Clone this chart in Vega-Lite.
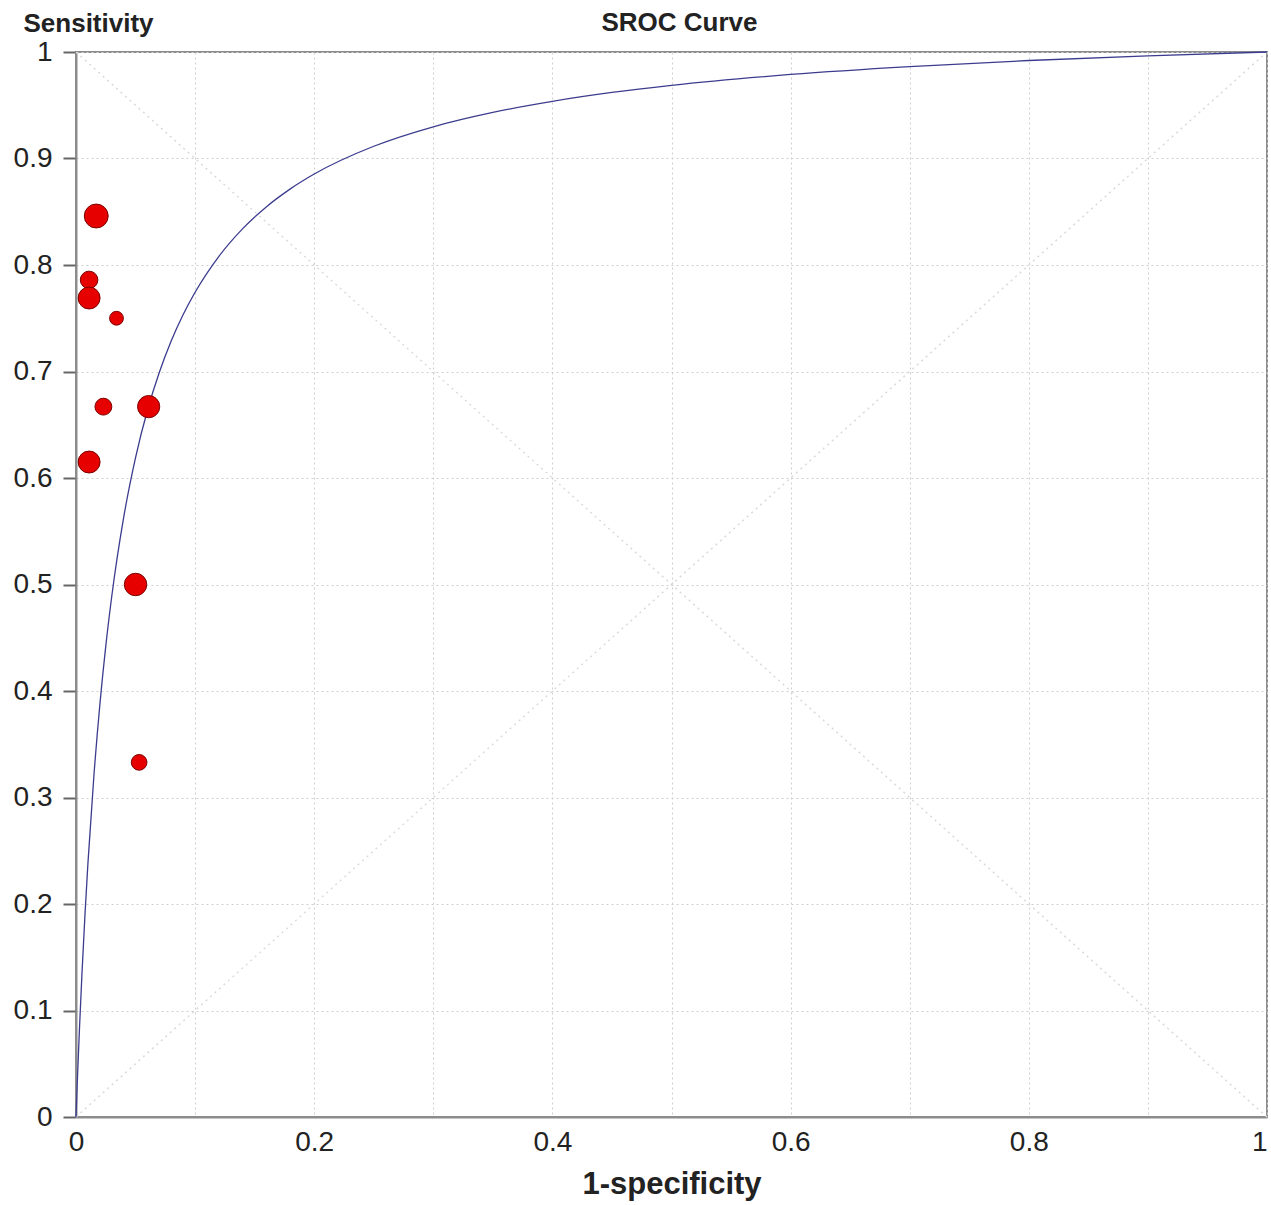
{
  "$schema": "https://vega.github.io/schema/vega-lite/v6.json",
  "width": 1191,
  "height": 1065,
  "autosize": {"type": "none"},
  "padding": {"left": 76, "top": 52, "right": 4, "bottom": 88},
  "background": "white",
  "config": {
    "font": "Liberation Sans",
    "view": {"stroke": "#8c8c8c", "strokeWidth": 2},
    "title": {"font": "Liberation Sans", "fontSize": 26, "fontWeight": "bold", "color": "#222"}
  },
  "title": {"text": "SROC Curve", "anchor": "middle", "baseline": "bottom", "offset": 0, "dy": 52, "frame": "group", "dx": 8},
  "datasets": {
    "studies": [
      {"fpr": 0.017, "sens": 0.846, "weight": 10.2},
      {"fpr": 0.011, "sens": 0.786, "weight": 5.5},
      {"fpr": 0.011, "sens": 0.769, "weight": 8.6},
      {"fpr": 0.034, "sens": 0.75, "weight": 3.4},
      {"fpr": 0.023, "sens": 0.667, "weight": 5.1},
      {"fpr": 0.061, "sens": 0.667, "weight": 8.8},
      {"fpr": 0.011, "sens": 0.615, "weight": 8.6},
      {"fpr": 0.05, "sens": 0.5, "weight": 9.0},
      {"fpr": 0.053, "sens": 0.333, "weight": 4.4}
    ],
    "curve": [
      {"fpr": 0, "sens": 0},
      {"fpr": 0.0005, "sens": 0.0152},
      {"fpr": 0.001, "sens": 0.03},
      {"fpr": 0.002, "sens": 0.0583},
      {"fpr": 0.003, "sens": 0.0851},
      {"fpr": 0.005, "sens": 0.1344},
      {"fpr": 0.0075, "sens": 0.1893},
      {"fpr": 0.01, "sens": 0.2379},
      {"fpr": 0.015, "sens": 0.32},
      {"fpr": 0.02, "sens": 0.3867},
      {"fpr": 0.025, "sens": 0.4421},
      {"fpr": 0.03, "sens": 0.4887},
      {"fpr": 0.04, "sens": 0.5628},
      {"fpr": 0.05, "sens": 0.6192},
      {"fpr": 0.06, "sens": 0.6636},
      {"fpr": 0.07, "sens": 0.6993},
      {"fpr": 0.08, "sens": 0.7288},
      {"fpr": 0.09, "sens": 0.7535},
      {"fpr": 0.1, "sens": 0.7744},
      {"fpr": 0.12, "sens": 0.8082},
      {"fpr": 0.14, "sens": 0.8342},
      {"fpr": 0.16, "sens": 0.8548},
      {"fpr": 0.18, "sens": 0.8715},
      {"fpr": 0.2, "sens": 0.8854},
      {"fpr": 0.25, "sens": 0.9115},
      {"fpr": 0.3, "sens": 0.9298},
      {"fpr": 0.35, "sens": 0.9433},
      {"fpr": 0.4, "sens": 0.9537},
      {"fpr": 0.45, "sens": 0.962},
      {"fpr": 0.5, "sens": 0.9687},
      {"fpr": 0.6, "sens": 0.9789},
      {"fpr": 0.7, "sens": 0.9863},
      {"fpr": 0.8, "sens": 0.992},
      {"fpr": 0.9, "sens": 0.9964},
      {"fpr": 1, "sens": 1}
    ],
    "diagonals": [
      {"fpr": 0, "sens": 0, "fpr2": 1, "sens2": 1},
      {"fpr": 0, "sens": 1, "fpr2": 1, "sens2": 0}
    ]
  },
  "layer": [
    {
      "data": {"name": "diagonals"},
      "mark": {"type": "rule", "stroke": "#dadada", "strokeWidth": 1.5, "strokeDash": [2, 4]},
      "encoding": {
        "x": {
          "field": "fpr", "type": "quantitative",
          "scale": {"domain": [0, 1], "nice": false, "zero": false},
          "axis": {
            "values": [0, 0.1, 0.2, 0.3, 0.4, 0.5, 0.6, 0.7, 0.8, 0.9, 1],
            "format": "~g",
            "labelExpr": "round(datum.value*10)%2==0 ? datum.label : ''",
            "labelAlign": {"condition": {"test": "datum.value >= 1", "value": "right"}, "value": "center"},
            "ticks": false,
            "labelPadding": 11,
            "labelFontSize": 28,
            "labelColor": "#222",
            "labelFont": "Liberation Sans",
            "labelFlush": false,
            "domainColor": "#8c8c8c",
            "domainWidth": 2,
            "grid": true,
            "gridColor": "#cfcfcf",
            "gridDash": [2, 3],
            "gridWidth": 1,
            "title": "1-specificity",
            "titleFontSize": 31,
            "titleFontWeight": "bold",
            "titleColor": "#222",
            "titleFont": "Liberation Sans",
            "titlePadding": 13
          }
        },
        "y": {
          "field": "sens", "type": "quantitative",
          "scale": {"domain": [0, 1], "nice": false, "zero": false},
          "axis": {
            "values": [0, 0.1, 0.2, 0.3, 0.4, 0.5, 0.6, 0.7, 0.8, 0.9, 1],
            "format": "~g",
            "tickSize": 13,
            "tickColor": "#666",
            "tickWidth": 2,
            "labelPadding": 11,
            "labelFontSize": 28,
            "labelColor": "#222",
            "labelFont": "Liberation Sans",
            "labelFlush": false,
            "domainColor": "#8c8c8c",
            "domainWidth": 2,
            "grid": true,
            "gridColor": "#cfcfcf",
            "gridDash": [2, 3],
            "gridWidth": 1,
            "title": "Sensitivity",
            "titleAngle": 0,
            "titleAlign": "left",
            "titleBaseline": "alphabetic",
            "titleX": -53,
            "titleY": -21,
            "titleFontSize": 26,
            "titleFontWeight": "bold",
            "titleColor": "#222",
            "titleFont": "Liberation Sans"
          }
        },
        "x2": {"field": "fpr2"},
        "y2": {"field": "sens2"}
      }
    },
    {
      "data": {"name": "curve"},
      "mark": {"type": "line", "stroke": "#3c3c8f", "strokeWidth": 1.3, "interpolate": "monotone"},
      "encoding": {
        "x": {"field": "fpr", "type": "quantitative"},
        "y": {"field": "sens", "type": "quantitative"}
      }
    },
    {
      "data": {"name": "studies"},
      "mark": {"type": "point", "filled": true, "shape": "circle", "fill": "#e60000", "stroke": "#7a0000", "strokeWidth": 1, "opacity": 1},
      "encoding": {
        "x": {"field": "fpr", "type": "quantitative"},
        "y": {"field": "sens", "type": "quantitative"},
        "size": {"field": "weight", "type": "quantitative", "scale": {"domain": [0, 10], "range": [0, 560]}, "legend": null}
      }
    }
  ]
}
